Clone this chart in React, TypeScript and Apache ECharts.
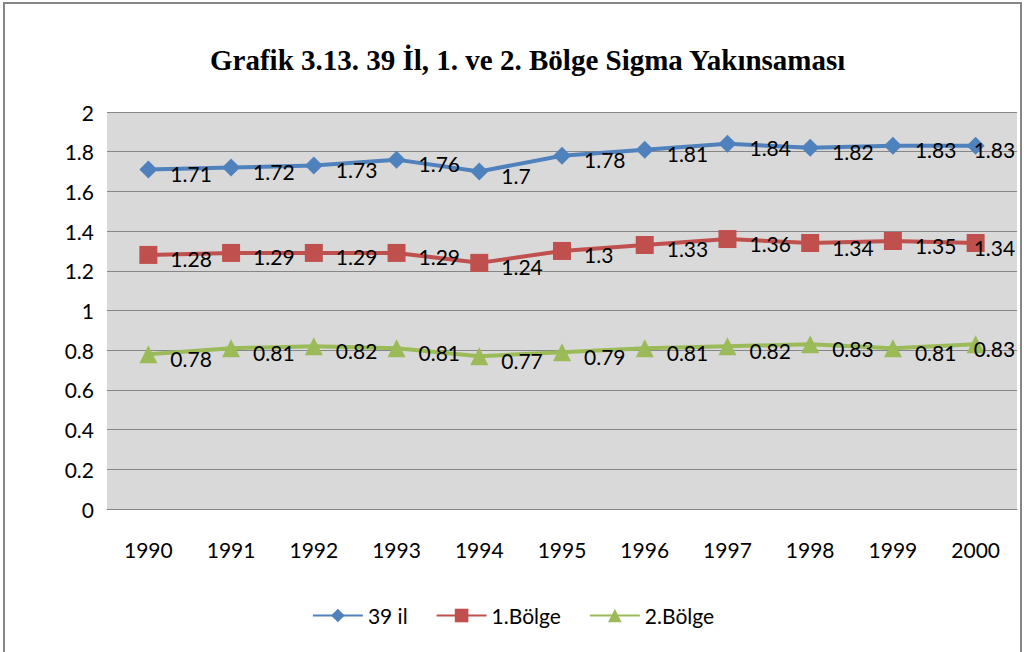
import React, { useEffect, useRef } from "react";
import * as echarts from "echarts";

const categories = ["1990", "1991", "1992", "1993", "1994", "1995", "1996", "1997", "1998", "1999", "2000"];
const seriesNames = ["39 il", "1.Bölge", "2.Bölge"];
const il39 = [1.71, 1.72, 1.73, 1.76, 1.7, 1.78, 1.81, 1.84, 1.82, 1.83, 1.83];
const bolge1 = [1.28, 1.29, 1.29, 1.29, 1.24, 1.3, 1.33, 1.36, 1.34, 1.35, 1.34];
const bolge2 = [0.78, 0.81, 0.82, 0.81, 0.77, 0.79, 0.81, 0.82, 0.83, 0.81, 0.83];
const titleText = "Grafik 3.13. 39 İl, 1. ve 2. Bölge Sigma Yakınsaması";

const FONT = "Lato, 'Open Sans', sans-serif";

export default function App() {
  const ref = useRef<HTMLDivElement>(null);
  useEffect(() => {
    document.body.style.margin = "0";
    if (!ref.current) return;
    const chart = echarts.init(ref.current, null, { renderer: "svg" });
    const mk = (name: string, data: number[], color: string, symbol: string, size: number) => ({
      name,
      type: "line",
      data: data.map((v, i) =>
        i === data.length - 1 ? { value: v, label: { offset: [-24, 4] } } : v
      ),
      symbol,
      symbolSize: size,
      lineStyle: { color, width: 4 },
      itemStyle: { color },
      label: {
        show: true,
        position: "right",
        distance: 13,
        offset: [0, 4],
        color: "#000",
        fontSize: 21,
        fontFamily: FONT,
      },
    });
    chart.setOption({
      animation: false,
      backgroundColor: "#fff",
      title: {
        text: titleText,
        left: 205,
        top: 40,
        textStyle: {
          fontFamily: "'Liberation Serif', serif",
          fontWeight: "bold",
          fontSize: 29,
          color: "#000",
        },
      },
      graphic: [
        {
          type: "rect",
          shape: { x: 4, y: 3, width: 1017, height: 660 },
          style: { fill: "none", stroke: "#868686", lineWidth: 2 },
          silent: true,
        },
      ],
      grid: { left: 107, right: 9, top: 112, bottom: 143, containLabel: false, show: true, backgroundColor: "#D9D9D9", borderWidth: 0 },
      legend: {
        bottom: 21,
        left: "center",
        itemWidth: 50,
        itemHeight: 17,
        itemGap: 28,
        data: seriesNames,
        textStyle: { fontFamily: FONT, fontSize: 21, color: "#000" },
      },
      xAxis: {
        type: "category",
        data: categories,
        boundaryGap: true,
        axisLine: { lineStyle: { color: "#868686", width: 1 } },
        axisTick: { show: false },
        axisLabel: { fontFamily: FONT, fontSize: 21, color: "#000", margin: 30 },
      },
      yAxis: {
        type: "value",
        min: 0,
        max: 2,
        interval: 0.2,
        axisLine: { show: false },
        axisTick: { show: false },
        splitLine: { lineStyle: { color: "#868686", width: 1 } },
        axisLabel: {
          fontFamily: FONT,
          fontSize: 21,
          color: "#000",
          margin: 13,
          formatter: (v: number) => String(Math.round(v * 10) / 10),
        },
      },
      series: [
        mk(seriesNames[0], il39, "#4F81BD", "diamond", 18),
        mk(seriesNames[1], bolge1, "#C0504D", "rect", 18),
        mk(seriesNames[2], bolge2, "#9BBB59", "triangle", 18),
      ],
    });
    return () => chart.dispose();
  }, []);
  return <div ref={ref} style={{ width: 1026, height: 652 }} />;
}
